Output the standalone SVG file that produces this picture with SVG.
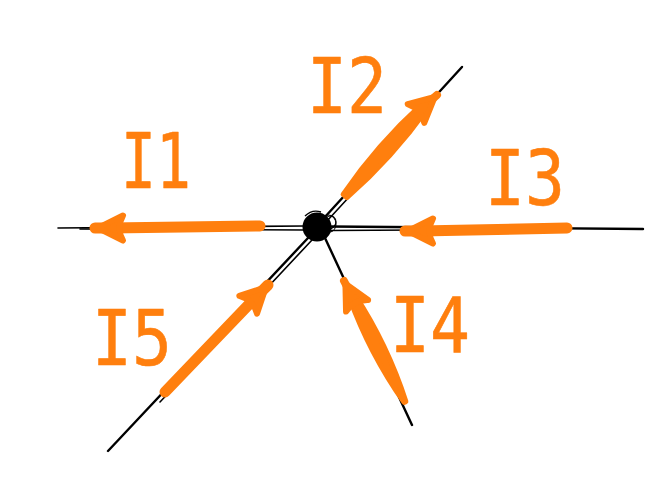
<svg xmlns="http://www.w3.org/2000/svg" width="671" height="480" viewBox="0 0 671 480">
<style>
.w{stroke:#000;stroke-width:1.6;fill:none;stroke-linecap:round}
.ws{stroke:#000;stroke-width:2.4;fill:none;stroke-linecap:round}
.shaft{stroke:#ff7f0e;stroke-width:11;fill:none;stroke-linecap:round}
.taper{fill:#ff7f0e;stroke:#ff7f0e;stroke-width:5;stroke-linejoin:round}
.lead{stroke:#ff7f0e;stroke-width:8;fill:none;stroke-linecap:round}
.lbl{font-family:"DejaVu Sans Mono","Liberation Mono",monospace;font-size:76px;fill:#ff7f0e;stroke:#ff7f0e;stroke-width:0.6;stroke-linejoin:round}
</style>
<defs>
<marker id="head" viewBox="-40 -25 45 50" markerWidth="45" markerHeight="50" refX="0" refY="0" orient="auto" markerUnits="userSpaceOnUse" overflow="visible">
<path d="M-3,0 L-28,-12.5 Q-21,0 -28,12.5 Z" fill="#ff7f0e" stroke="#ff7f0e" stroke-width="6" stroke-linejoin="round"/>
</marker>
</defs>
<rect width="671" height="480" fill="#fff"/>
<g id="wires">
<line class="w" x1="58" y1="228" x2="305" y2="226"/>
<line class="w" x1="80" y1="229" x2="305" y2="230"/>
<line class="ws" x1="330" y1="226.5" x2="643" y2="229"/>
<line class="w" x1="330" y1="230.5" x2="420" y2="230"/>
<line class="ws" x1="324" y1="218" x2="462" y2="67"/>
<line class="w" x1="327" y1="221" x2="350" y2="196"/>
<line class="ws" x1="308" y1="238" x2="108" y2="451"/>
<line class="w" x1="312" y1="240" x2="160" y2="402"/>
<line class="ws" x1="325" y1="238" x2="412" y2="425"/>
</g>
<g id="junction">
<circle cx="317" cy="227" r="14.5" fill="#000"/>
<ellipse cx="328" cy="222" rx="8" ry="7" fill="none" stroke="#000" stroke-width="1.2"/>
<ellipse cx="330" cy="224" rx="6" ry="8" fill="none" stroke="#000" stroke-width="1"/>
<path d="M305,216 Q312,209 321,212" fill="none" stroke="#000" stroke-width="1.4"/>
</g>
<g id="I1">
<path class="shaft" d="M260,226 L110,228 L95,228" marker-end="url(#head)"/>
<text class="lbl" x="121" y="188" textLength="70" lengthAdjust="spacingAndGlyphs">I1</text>
</g>
<g id="I2">
<path class="taper" d="M343.1,194.3 Q377.5,144.4 422.4,103.7 L427.6,108.3 Q392.5,157.6 346.9,197.7 Z"/>
<path class="lead" d="M420,110 L437,95" marker-end="url(#head)"/>
<text class="lbl" x="307" y="113" textLength="80" lengthAdjust="spacingAndGlyphs">I2</text>
</g>
<g id="I3">
<path class="shaft" d="M567,228 L420,231 L405,231" marker-end="url(#head)"/>
<text class="lbl" x="485" y="205" textLength="80" lengthAdjust="spacingAndGlyphs">I3</text>
</g>
<g id="I4">
<path class="taper" d="M405.9,401.6 Q387.4,344.5 354.7,294.7 L349.3,297.3 Q369.6,353.5 404.1,402.4 Z"/>
<path class="lead" d="M353,298 L344,281" marker-end="url(#head)"/>
<text class="lbl" x="390" y="352" textLength="80" lengthAdjust="spacingAndGlyphs">I4</text>
</g>
<g id="I5">
<path class="shaft" d="M165,392 L256,297 L268,285" marker-end="url(#head)"/>
<text class="lbl" x="92" y="365" textLength="80" lengthAdjust="spacingAndGlyphs">I5</text>
</g>
</svg>
